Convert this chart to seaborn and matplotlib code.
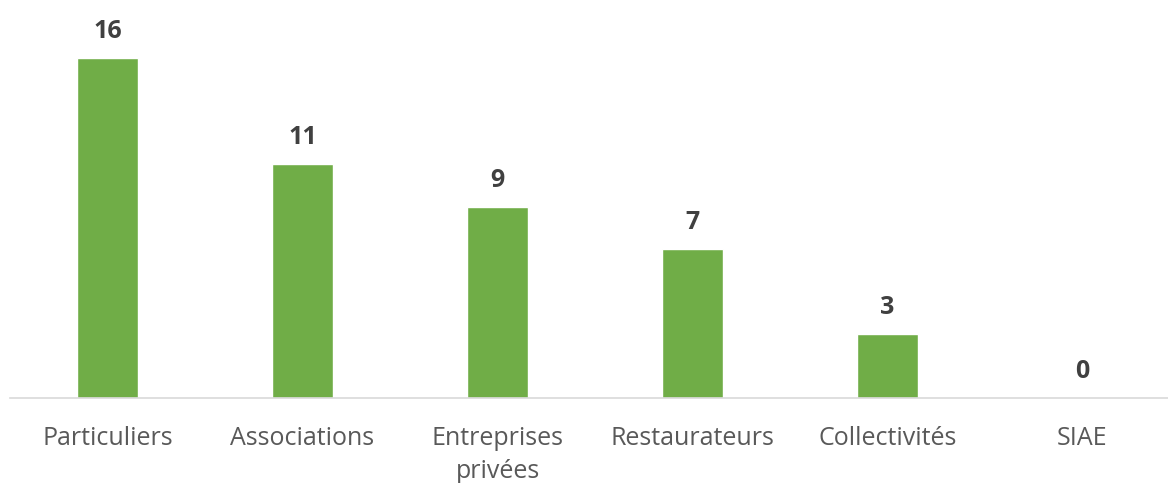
import matplotlib
matplotlib.use("Agg")
import matplotlib.pyplot as plt
import seaborn as sns
import pandas as pd

categories = ["Particuliers", "Associations", "Entreprises\nprivées", "Restaurateurs", "Collectivités", "SIAE"]
values = [16, 11, 9, 7, 3, 0]

sns.set_theme(style="white")
plt.rcParams['font.family'] = ['Open Sans', 'DejaVu Sans']

df = pd.DataFrame({"cat": categories, "val": values})

fig = plt.figure(figsize=(11.68, 4.83), dpi=100)
ax = fig.add_axes([10/1168, 85/483, 1170/1168, 382.5/483])
sns.barplot(data=df, x="cat", y="val", color="#70AD47", saturation=1, width=0.31, ax=ax)

ax.set_ylim(0, 18)
ax.set_xlim(-0.5, 5.5)
ax.set_xlabel("")
ax.set_ylabel("")
ax.set_yticks([])
for s in ["top", "right", "left"]:
    ax.spines[s].set_visible(False)
ax.spines["bottom"].set_color("#D9D9D9")
ax.spines["bottom"].set_linewidth(1.2)
ax.tick_params(axis="x", length=0, pad=20, labelsize=18, labelcolor="#595959")
for lbl in ax.get_xticklabels():
    lbl.set_linespacing(1.45)

for i, v in enumerate(values):
    ax.annotate(str(v), (i, v), xytext=(0, 10), textcoords="offset points",
                ha="center", va="bottom", fontsize=18, fontweight="bold", color="#404040")

fig.savefig("out.png", dpi=100)
